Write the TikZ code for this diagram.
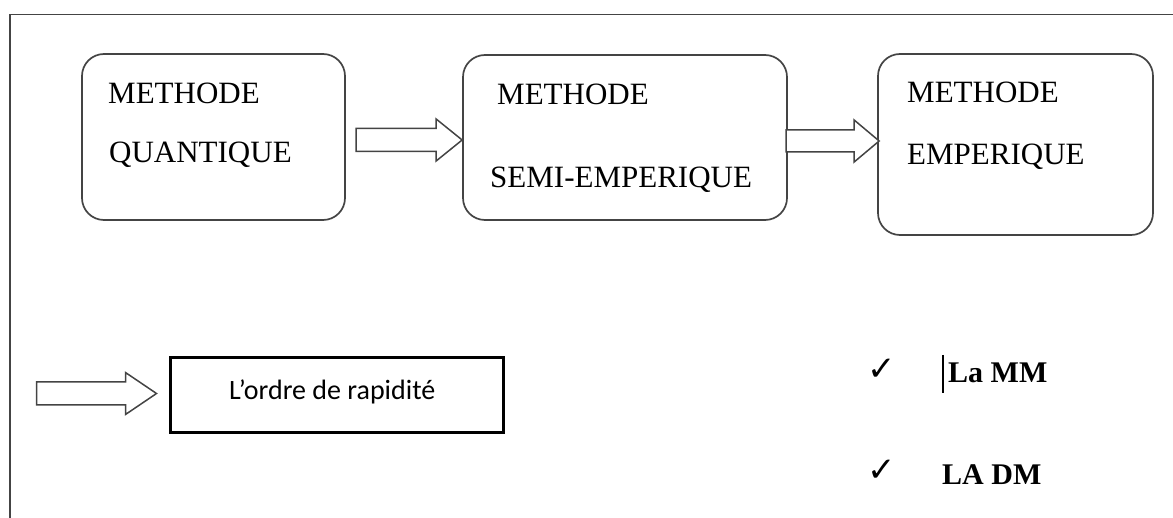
\documentclass[tikz,border=0pt]{standalone}
\usepackage{fontspec}
\setmainfont{Liberation Serif}
\newfontfamily\calib{Carlito}
\newfontfamily\dejavu{DejaVu Sans}
\usetikzlibrary{calc}
\definecolor{edgegray}{HTML}{444444}
\newcommand\blockarr[5]{% tip, length, shaft half, head half, head length
  \draw[barrow] ($#1+(-#2,-#3)$) -- ($#1+(-#5,-#3)$) -- ($#1+(-#5,-#4)$) -- #1
    -- ($#1+(-#5,#4)$) -- ($#1+(-#5,#3)$) -- ($#1+(-#2,#3)$) -- cycle;}
\begin{document}
\begin{tikzpicture}[x=1pt,y=-1pt,
  methbox/.style={draw=edgegray,line width=1.7pt,rounded corners=22pt,inner sep=0pt},
  barrow/.style={draw=edgegray,line width=1.5pt,fill=white,line join=miter},
  btxt/.style={anchor=base west,inner sep=0pt,font=\fontsize{31}{31}\selectfont},
  listtxt/.style={anchor=base west,inner sep=0pt,font=\fontsize{30}{30}\selectfont\bfseries},
  chk/.style={inner sep=0pt,font=\dejavu\fontsize{34}{34}\selectfont},
  ordbox/.style={draw=black,line width=3pt,inner sep=0pt}]
\useasboundingbox (0,0) rectangle (1173,518);
% frame
\draw[edgegray,line width=1.3pt] (1173,14.5) -- (10,14.5) -- (10,518);
% boxes
\node[methbox,minimum width=263pt,minimum height=166pt] (b1) at (213.5,137) {};
\node[methbox,minimum width=324pt,minimum height=165pt] (b2) at (625,137.5) {};
\node[methbox,minimum width=275pt,minimum height=181pt] (b3) at (1015.5,144.5) {};
% texts
\node[btxt] (b1a) at (108,104) {METHODE};
\node[btxt] (b1b) at (109,163) {QUANTIQUE};
\node[btxt] (b2a) at (497,105) {METHODE};
\node[btxt] (b2b) at (490,188) {SEMI-EMPERIQUE};
\node[btxt] (b3a) at (907,103) {METHODE};
\node[btxt] (b3b) at (907,165) {EMPERIQUE};
% block arrows
\coordinate (t1) at (b2.west |- 0,140);
\coordinate (t2) at ($(b3.west |- 0,141)+(2,0)$);
\blockarr{(t1)}{106}{11.5}{21}{26}
\blockarr{(t2)}{93}{11}{21}{25}
% bottom left
\node[ordbox,minimum width=333pt,minimum height=75pt] (ord) at (336.5,395.5) {};
\node[anchor=base west,inner sep=0pt,font=\calib\fontsize{28}{28}\selectfont] (ordt) at (229,400) {L’ordre de rapidité};
\coordinate (t3) at ($(ord.west)+(-12,-2)$);
\blockarr{(t3)}{120}{11.5}{21}{31}
% list
\node[chk] (c1) at (882,370) {✓};
\node[chk] (c2) at (882,471) {✓};
\node[listtxt] (l1) at (948,383) {La MM};
\node[listtxt] (l2) at (942,485) {LA DM};
\draw[black,line width=2pt] (l1.base west) ++(-5,-28) -- ++(0,38);
\end{tikzpicture}
\end{document}
